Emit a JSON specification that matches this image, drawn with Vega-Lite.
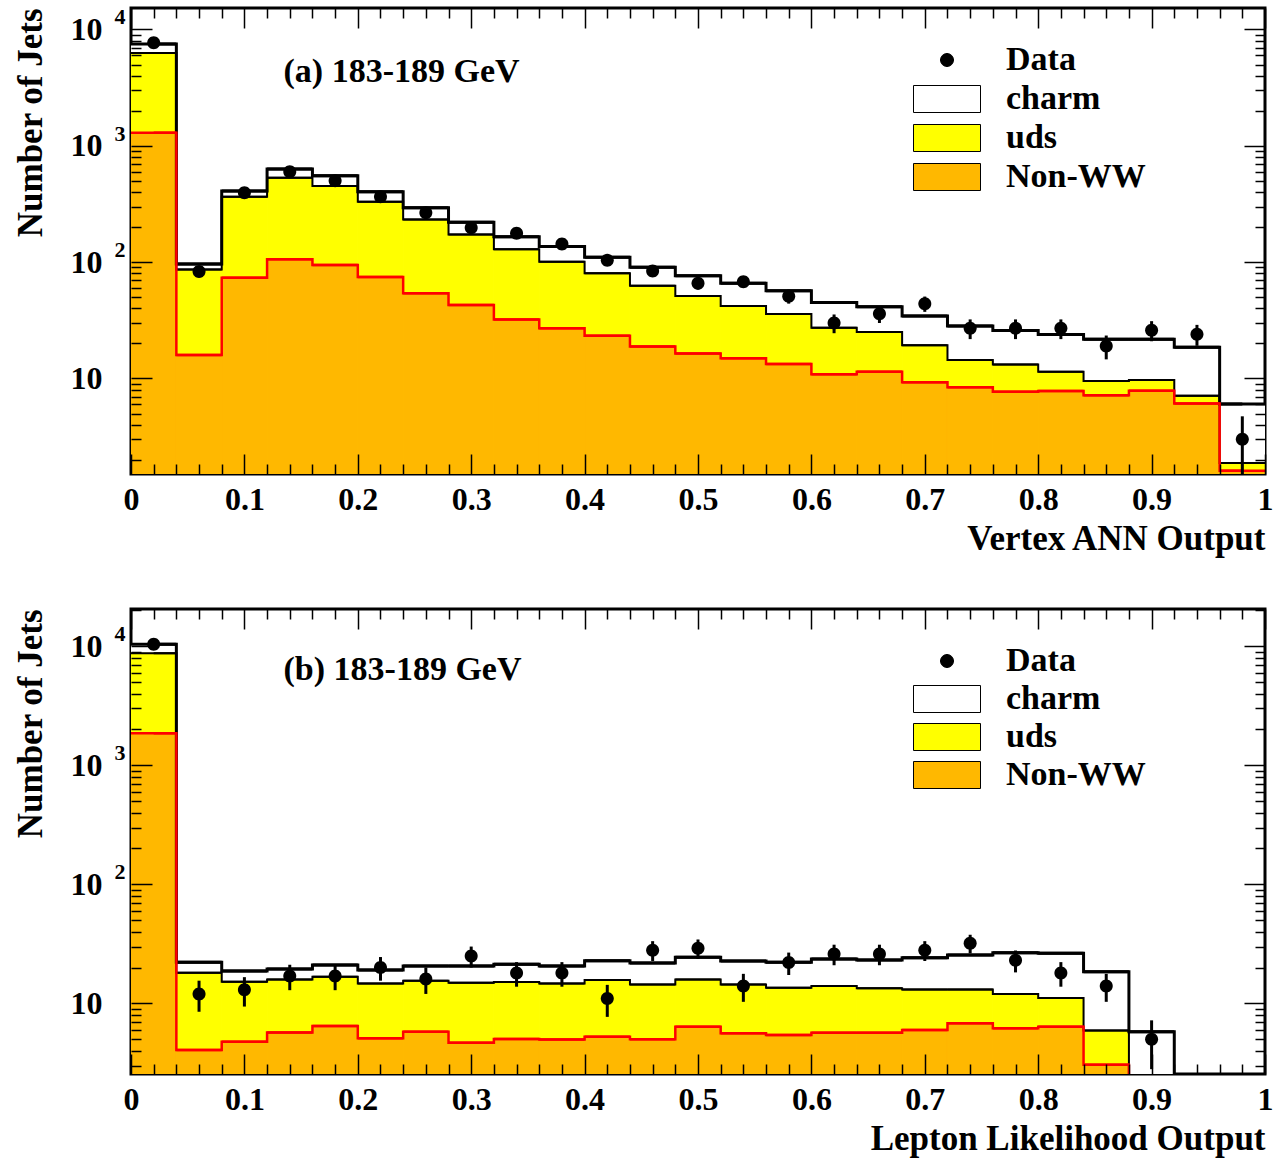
{
"$schema": "https://vega.github.io/schema/vega-lite/v6.json",
"background": "white",
"padding": {"left": 11, "top": 4, "right": 5, "bottom": 4},
"spacing": 48,
"config": {
  "view": {"stroke": "black", "strokeWidth": 3},
  "axis": {"domain": false, "grid": false, "tickColor": "black", "tickWidth": 1.5, "labelFont": "Liberation Serif", "labelFontWeight": "bold", "labelFontSize": 32, "labelColor": "black", "titleFont": "Liberation Serif", "titleFontWeight": "bold", "titleFontSize": 35, "titleColor": "black"}
},
"datasets": {
  "a": [
{"x0":0,"x1":0.04,"xc":0.02,"charm":7500,"uds":6280,"nonww":1297,"obs":7710,"elo":7622,"ehi":7798},
{"x0":0.04,"x1":0.08,"xc":0.06,"charm":96.4,"uds":86.3,"nonww":15.9,"obs":83,"elo":74,"ehi":92},
{"x0":0.08,"x1":0.12,"xc":0.1,"charm":408,"uds":365,"nonww":73.4,"obs":395,"elo":375,"ehi":415},
{"x0":0.12,"x1":0.16,"xc":0.14,"charm":632,"uds":532,"nonww":106,"obs":598,"elo":574,"ehi":622},
{"x0":0.16,"x1":0.2,"xc":0.18,"charm":553,"uds":451,"nonww":94.4,"obs":501,"elo":479,"ehi":523},
{"x0":0.2,"x1":0.24,"xc":0.22,"charm":403,"uds":330,"nonww":74.5,"obs":365,"elo":346,"ehi":384},
{"x0":0.24,"x1":0.28,"xc":0.26,"charm":294,"uds":233,"nonww":54,"obs":266,"elo":250,"ehi":282},
{"x0":0.28,"x1":0.32,"xc":0.3,"charm":220,"uds":173,"nonww":42.8,"obs":198,"elo":184,"ehi":212},
{"x0":0.32,"x1":0.36,"xc":0.34,"charm":165,"uds":129,"nonww":32.2,"obs":177,"elo":164,"ehi":190},
{"x0":0.36,"x1":0.4,"xc":0.38,"charm":136,"uds":101,"nonww":27,"obs":143,"elo":131,"ehi":155},
{"x0":0.4,"x1":0.44,"xc":0.42,"charm":110,"uds":80.2,"nonww":23.3,"obs":104,"elo":94,"ehi":114},
{"x0":0.44,"x1":0.48,"xc":0.46,"charm":90.2,"uds":62.7,"nonww":18.8,"obs":84,"elo":75,"ehi":93},
{"x0":0.48,"x1":0.52,"xc":0.5,"charm":76.4,"uds":51.2,"nonww":16.4,"obs":66,"elo":58,"ehi":74},
{"x0":0.52,"x1":0.56,"xc":0.54,"charm":65.8,"uds":42,"nonww":14.9,"obs":68,"elo":60,"ehi":76},
{"x0":0.56,"x1":0.6,"xc":0.58,"charm":56.8,"uds":35.8,"nonww":13.3,"obs":51,"elo":44,"ehi":58},
{"x0":0.6,"x1":0.64,"xc":0.62,"charm":45.1,"uds":27.3,"nonww":10.9,"obs":30,"elo":24.5,"ehi":35.5},
{"x0":0.64,"x1":0.68,"xc":0.66,"charm":41.4,"uds":25.1,"nonww":11.4,"obs":36,"elo":30,"ehi":42},
{"x0":0.68,"x1":0.72,"xc":0.7,"charm":34.4,"uds":19.3,"nonww":9.27,"obs":44,"elo":37.4,"ehi":50.6},
{"x0":0.72,"x1":0.76,"xc":0.74,"charm":28.2,"uds":14.4,"nonww":8.4,"obs":27,"elo":21.8,"ehi":32.2},
{"x0":0.76,"x1":0.8,"xc":0.78,"charm":25.9,"uds":13.2,"nonww":7.69,"obs":27,"elo":21.8,"ehi":32.2},
{"x0":0.8,"x1":0.84,"xc":0.82,"charm":23.9,"uds":11.4,"nonww":7.8,"obs":27,"elo":21.8,"ehi":32.2},
{"x0":0.84,"x1":0.88,"xc":0.86,"charm":21.7,"uds":9.5,"nonww":7.16,"obs":19,"elo":14.6,"ehi":23.4},
{"x0":0.88,"x1":0.92,"xc":0.9,"charm":21.7,"uds":9.7,"nonww":7.84,"obs":26,"elo":20.9,"ehi":31.1},
{"x0":0.92,"x1":0.96,"xc":0.94,"charm":18.6,"uds":7.1,"nonww":6.1,"obs":24,"elo":19.1,"ehi":28.9},
{"x0":0.96,"x1":1,"xc":0.98,"charm":6.03,"uds":1.88,"nonww":1.61,"obs":3,"elo":1.27,"ehi":4.73}
  ],
  "b": [
{"x0":0,"x1":0.04,"xc":0.02,"charm":10390,"uds":8730,"nonww":1858,"obs":10400,"elo":10298,"ehi":10502},
{"x0":0.04,"x1":0.08,"xc":0.06,"charm":22.1,"uds":18.1,"nonww":4.05,"obs":12,"elo":8.5,"ehi":15.5},
{"x0":0.08,"x1":0.12,"xc":0.1,"charm":18.7,"uds":15.2,"nonww":4.76,"obs":13,"elo":9.4,"ehi":16.6},
{"x0":0.12,"x1":0.16,"xc":0.14,"charm":19.4,"uds":15.9,"nonww":5.7,"obs":17,"elo":12.9,"ehi":21.1},
{"x0":0.16,"x1":0.2,"xc":0.18,"charm":21.0,"uds":16.7,"nonww":6.44,"obs":17,"elo":12.9,"ehi":21.1},
{"x0":0.2,"x1":0.24,"xc":0.22,"charm":19.05,"uds":14.7,"nonww":5.08,"obs":20,"elo":15.5,"ehi":24.5},
{"x0":0.24,"x1":0.28,"xc":0.26,"charm":20.6,"uds":15.5,"nonww":5.77,"obs":16,"elo":12,"ehi":20},
{"x0":0.28,"x1":0.32,"xc":0.3,"charm":20.6,"uds":14.9,"nonww":4.67,"obs":25,"elo":20,"ehi":30},
{"x0":0.32,"x1":0.36,"xc":0.34,"charm":21.3,"uds":15.1,"nonww":5.01,"obs":18,"elo":13.8,"ehi":22.2},
{"x0":0.36,"x1":0.4,"xc":0.38,"charm":20.6,"uds":14.7,"nonww":4.98,"obs":18,"elo":13.8,"ehi":22.2},
{"x0":0.4,"x1":0.44,"xc":0.42,"charm":22.8,"uds":15.7,"nonww":5.24,"obs":11,"elo":7.7,"ehi":14.3},
{"x0":0.44,"x1":0.48,"xc":0.46,"charm":21.8,"uds":14.4,"nonww":4.99,"obs":28,"elo":22.7,"ehi":33.3},
{"x0":0.48,"x1":0.52,"xc":0.5,"charm":24.4,"uds":15.9,"nonww":6.36,"obs":29,"elo":23.6,"ehi":34.4},
{"x0":0.52,"x1":0.56,"xc":0.54,"charm":22.7,"uds":14.4,"nonww":5.6,"obs":14,"elo":10.3,"ehi":17.7},
{"x0":0.56,"x1":0.6,"xc":0.58,"charm":22.2,"uds":13.5,"nonww":5.42,"obs":22,"elo":17.3,"ehi":26.7},
{"x0":0.6,"x1":0.64,"xc":0.62,"charm":23.6,"uds":14.0,"nonww":5.66,"obs":26,"elo":20.9,"ehi":31.1},
{"x0":0.64,"x1":0.68,"xc":0.66,"charm":23.1,"uds":13.4,"nonww":5.66,"obs":26,"elo":20.9,"ehi":31.1},
{"x0":0.68,"x1":0.72,"xc":0.7,"charm":24.2,"uds":13.1,"nonww":5.97,"obs":28,"elo":22.7,"ehi":33.3},
{"x0":0.72,"x1":0.76,"xc":0.74,"charm":25.5,"uds":13.1,"nonww":6.79,"obs":32,"elo":26.3,"ehi":37.7},
{"x0":0.76,"x1":0.8,"xc":0.78,"charm":26.6,"uds":12.0,"nonww":6.17,"obs":23,"elo":18.2,"ehi":27.8},
{"x0":0.8,"x1":0.84,"xc":0.82,"charm":26.3,"uds":11.1,"nonww":6.36,"obs":18,"elo":13.8,"ehi":22.2},
{"x0":0.84,"x1":0.88,"xc":0.86,"charm":18.4,"uds":5.91,"nonww":3.05,"obs":14,"elo":10.3,"ehi":17.7},
{"x0":0.88,"x1":0.92,"xc":0.9,"charm":5.77,"uds":0.5,"nonww":0.5,"obs":5,"elo":2.8,"ehi":7.2},
{"x0":0.92,"x1":0.96,"xc":0.94,"charm":0.5,"uds":0.5,"nonww":0.5,"obs":null,"elo":null,"ehi":null},
{"x0":0.96,"x1":1,"xc":0.98,"charm":0.5,"uds":0.5,"nonww":0.5,"obs":null,"elo":null,"ehi":null}
  ],
  "exps": [{"v":100,"t":"2"},{"v":1000,"t":"3"},{"v":10000,"t":"4"}],
  "labA": [{"t":"(a) 183-189 GeV"}],
  "labB": [{"t":"(b) 183-189 GeV"}]
},
"resolve": {"scale": {"fill": "independent", "shape": "independent"}, "legend": {"fill": "independent", "shape": "independent"}},
"vconcat": [
{
  "width": 1134, "height": 466,
  "data": {"name": "a"},
  "resolve": {"axis": {"x": "independent", "y": "independent"}},
  "layer": [
    {"mark": {"type": "rect", "clip": true, "strokeWidth": 0},
     "encoding": {
       "x": {"field": "x0", "type": "quantitative", "scale": {"domain": [0, 1], "nice": false, "zero": false},
             "axis": {"orient": "bottom", "zindex": 1, "values": [0,0.1,0.2,0.3,0.4,0.5,0.6,0.7,0.8,0.9,1], "tickSize": -20, "labelExpr": "datum.value == 0 ? '0' : datum.value == 1 ? '1' : format(datum.value, '.1f')", "labelFlush": false, "labelOverlap": false, "labelPadding": 30, "title": "Vertex ANN Output", "titleAnchor": "end", "titlePadding": 6}},
       "x2": {"field": "x1"},
       "y": {"field": "charm", "type": "quantitative", "scale": {"type": "log", "domain": [1.51, 15300], "nice": false},
             "axis": {"orient": "left", "zindex": 1, "values": [10,100,1000,10000], "tickSize": -21, "labelExpr": "'10'", "labelPadding": 50, "labelOverlap": false, "title": "Number of Jets", "titleAnchor": "end", "titlePadding": 22}},
       "y2": {"datum": 0.5},
       "fill": {"datum": "charm", "type": "nominal",
                "scale": {"domain": ["Data","charm","uds","Non-WW"], "range": ["black","white","#ffff00","#ffb800"]},
                "legend": {"orient": "none", "legendX": 799, "legendY": 35, "title": null, "padding": 0, "labelFont": "Liberation Serif", "labelFontSize": 34, "labelFontWeight": "bold", "labelColor": "black", "labelOffset": 42, "labelLimit": 400, "rowPadding": 5, "symbolSize": 4, "symbolStrokeColor": "black", "symbolStrokeWidth": 1,
                           "encode": {"symbols": {"update": {"stroke": {"value": "black"}, "strokeWidth": {"value": 1}}}}}}
     }},
    {"mark": {"type": "rect", "clip": true, "strokeWidth": 1, "stroke": "#ffff00"},
     "encoding": {
       "x": {"field": "x0", "type": "quantitative", "axis": {"orient": "bottom", "zindex": 1, "values": [0.02,0.04,0.06,0.08,0.12,0.14,0.16,0.18,0.22,0.24,0.26,0.28,0.32,0.34,0.36,0.38,0.42,0.44,0.46,0.48,0.52,0.54,0.56,0.58,0.62,0.64,0.66,0.68,0.72,0.74,0.76,0.78,0.82,0.84,0.86,0.88,0.92,0.94,0.96,0.98], "tickSize": -10, "labels": false, "title": null}},
       "x2": {"field": "x1"},
       "y": {"field": "uds", "type": "quantitative", "axis": {"orient": "left", "zindex": 1, "values": [2,3,4,5,6,7,8,9,20,30,40,50,60,70,80,90,200,300,400,500,600,700,800,900,2000,3000,4000,5000,6000,7000,8000,9000], "tickSize": -10, "labels": false, "title": null}},
       "y2": {"datum": 0.5},
       "fill": {"datum": "uds", "type": "nominal"}
     }},
    {"mark": {"type": "rect", "clip": true, "strokeWidth": 1, "stroke": "#ffb800"},
     "encoding": {
       "x": {"field": "x0", "type": "quantitative", "axis": {"orient": "top", "zindex": 1, "values": [0,0.1,0.2,0.3,0.4,0.5,0.6,0.7,0.8,0.9,1], "tickSize": -20, "labels": false, "title": null}},
       "x2": {"field": "x1"},
       "y": {"field": "nonww", "type": "quantitative", "axis": {"orient": "right", "zindex": 1, "values": [10,100,1000,10000], "tickSize": -21, "labels": false, "title": null}},
       "y2": {"datum": 0.5},
       "fill": {"datum": "Non-WW", "type": "nominal"}
     }},
    {"mark": {"type": "line", "interpolate": "step", "clip": true, "strokeWidth": 3, "color": "black"},
     "encoding": {
       "x": {"field": "xc", "type": "quantitative", "axis": {"orient": "top", "zindex": 1, "values": [0.02,0.04,0.06,0.08,0.12,0.14,0.16,0.18,0.22,0.24,0.26,0.28,0.32,0.34,0.36,0.38,0.42,0.44,0.46,0.48,0.52,0.54,0.56,0.58,0.62,0.64,0.66,0.68,0.72,0.74,0.76,0.78,0.82,0.84,0.86,0.88,0.92,0.94,0.96,0.98], "tickSize": -10, "labels": false, "title": null}},
       "y": {"field": "charm", "type": "quantitative", "axis": {"orient": "right", "zindex": 1, "values": [2,3,4,5,6,7,8,9,20,30,40,50,60,70,80,90,200,300,400,500,600,700,800,900,2000,3000,4000,5000,6000,7000,8000,9000], "tickSize": -10, "labels": false, "title": null}}
     }},
    {"mark": {"type": "rule", "clip": true, "strokeWidth": 3, "color": "black"},
     "encoding": {"x": {"field": "x0", "type": "quantitative", "axis": null}, "x2": {"field": "x1"}, "y": {"field": "charm", "type": "quantitative", "axis": null}}},
    {"mark": {"type": "line", "interpolate": "step", "clip": true, "strokeWidth": 2, "color": "black"},
     "encoding": {"x": {"field": "xc", "type": "quantitative", "axis": null}, "y": {"field": "uds", "type": "quantitative", "axis": null}}},
    {"mark": {"type": "rule", "clip": true, "strokeWidth": 2, "color": "black"},
     "encoding": {"x": {"field": "x0", "type": "quantitative", "axis": null}, "x2": {"field": "x1"}, "y": {"field": "uds", "type": "quantitative", "axis": null}}},
    {"mark": {"type": "line", "interpolate": "step", "clip": true, "strokeWidth": 2.5, "color": "#ff0000"},
     "encoding": {"x": {"field": "xc", "type": "quantitative", "axis": null}, "y": {"field": "nonww", "type": "quantitative", "axis": null}}},
    {"mark": {"type": "rule", "clip": true, "strokeWidth": 2.5, "color": "#ff0000"},
     "encoding": {"x": {"field": "x0", "type": "quantitative", "axis": null}, "x2": {"field": "x1"}, "y": {"field": "nonww", "type": "quantitative", "axis": null}}},
    {"mark": {"type": "rule", "clip": true, "strokeWidth": 3, "color": "black"},
     "encoding": {"x": {"field": "xc", "type": "quantitative", "axis": null}, "y": {"field": "elo", "type": "quantitative", "axis": null}, "y2": {"field": "ehi"}}},
    {"mark": {"type": "point", "filled": true, "size": 4, "strokeWidth": 0, "opacity": 1, "clip": true},
     "encoding": {
       "x": {"field": "xc", "type": "quantitative", "axis": null},
       "y": {"field": "obs", "type": "quantitative", "axis": null},
       "fill": {"datum": "Data", "type": "nominal"},
       "shape": {"datum": "Data", "type": "nominal",
                 "scale": {"domain": ["Data","charm","uds","Non-WW"], "range": ["M-6.5,0A6.5,6.5,0,1,1,6.5,0A6.5,6.5,0,1,1,-6.5,0Z","M-33.5,-13.5H33.5V13.5H-33.5Z","M-33.5,-13.5H33.5V13.5H-33.5Z","M-33.5,-13.5H33.5V13.5H-33.5Z"]},
                 "legend": {"orient": "none", "legendX": 799, "legendY": 35, "title": null, "padding": 0, "labelFont": "Liberation Serif", "labelFontSize": 34, "labelFontWeight": "bold", "labelColor": "black", "labelOffset": 42, "labelLimit": 400, "rowPadding": 5, "symbolSize": 4}}
     }},
    {"data": {"name": "exps"},
     "mark": {"type": "text", "align": "left", "baseline": "middle", "dx": -16.5, "dy": -12, "font": "Liberation Serif", "fontWeight": "bold", "fontSize": 22, "color": "black"},
     "encoding": {"x": {"datum": 0, "type": "quantitative", "axis": null}, "y": {"field": "v", "type": "quantitative", "axis": null}, "text": {"field": "t"}}},
    {"data": {"name": "labA"},
     "mark": {"type": "text", "align": "left", "baseline": "middle", "font": "Liberation Serif", "fontWeight": "bold", "fontSize": 34, "color": "black"},
     "encoding": {"x": {"datum": 0.1345, "type": "quantitative", "axis": null}, "y": {"datum": 4312, "type": "quantitative", "axis": null}, "text": {"field": "t"}}}
  ]
},
{
  "width": 1134, "height": 465,
  "data": {"name": "b"},
  "resolve": {"axis": {"x": "independent", "y": "independent"}},
  "layer": [
    {"mark": {"type": "rect", "clip": true, "strokeWidth": 0},
     "encoding": {
       "x": {"field": "x0", "type": "quantitative", "scale": {"domain": [0, 1], "nice": false, "zero": false},
             "axis": {"orient": "bottom", "zindex": 1, "values": [0,0.1,0.2,0.3,0.4,0.5,0.6,0.7,0.8,0.9,1], "tickSize": -20, "labelExpr": "datum.value == 0 ? '0' : datum.value == 1 ? '1' : format(datum.value, '.1f')", "labelFlush": false, "labelOverlap": false, "labelPadding": 30, "title": "Lepton Likelihood Output", "titleAnchor": "end", "titlePadding": 6}},
       "x2": {"field": "x1"},
       "y": {"field": "charm", "type": "quantitative", "scale": {"type": "log", "domain": [2.55, 20550], "nice": false},
             "axis": {"orient": "left", "zindex": 1, "values": [10,100,1000,10000], "tickSize": -21, "labelExpr": "'10'", "labelPadding": 50, "labelOverlap": false, "title": "Number of Jets", "titleAnchor": "end", "titlePadding": 22}},
       "y2": {"datum": 0.5},
       "fill": {"datum": "charm", "type": "nominal",
                "scale": {"domain": ["Data","charm","uds","Non-WW"], "range": ["black","white","#ffff00","#ffb800"]},
                "legend": {"orient": "none", "legendX": 799, "legendY": 35, "title": null, "padding": 0, "labelFont": "Liberation Serif", "labelFontSize": 34, "labelFontWeight": "bold", "labelColor": "black", "labelOffset": 42, "labelLimit": 400, "rowPadding": 4, "symbolSize": 4, "symbolStrokeColor": "black", "symbolStrokeWidth": 1,
                           "encode": {"symbols": {"update": {"stroke": {"value": "black"}, "strokeWidth": {"value": 1}}}}}}
     }},
    {"mark": {"type": "rect", "clip": true, "strokeWidth": 1, "stroke": "#ffff00"},
     "encoding": {
       "x": {"field": "x0", "type": "quantitative", "axis": {"orient": "bottom", "zindex": 1, "values": [0.02,0.04,0.06,0.08,0.12,0.14,0.16,0.18,0.22,0.24,0.26,0.28,0.32,0.34,0.36,0.38,0.42,0.44,0.46,0.48,0.52,0.54,0.56,0.58,0.62,0.64,0.66,0.68,0.72,0.74,0.76,0.78,0.82,0.84,0.86,0.88,0.92,0.94,0.96,0.98], "tickSize": -10, "labels": false, "title": null}},
       "x2": {"field": "x1"},
       "y": {"field": "uds", "type": "quantitative", "axis": {"orient": "left", "zindex": 1, "values": [3,4,5,6,7,8,9,20,30,40,50,60,70,80,90,200,300,400,500,600,700,800,900,2000,3000,4000,5000,6000,7000,8000,9000,20000], "tickSize": -10, "labels": false, "title": null}},
       "y2": {"datum": 0.5},
       "fill": {"datum": "uds", "type": "nominal"}
     }},
    {"mark": {"type": "rect", "clip": true, "strokeWidth": 1, "stroke": "#ffb800"},
     "encoding": {
       "x": {"field": "x0", "type": "quantitative", "axis": {"orient": "top", "zindex": 1, "values": [0,0.1,0.2,0.3,0.4,0.5,0.6,0.7,0.8,0.9,1], "tickSize": -20, "labels": false, "title": null}},
       "x2": {"field": "x1"},
       "y": {"field": "nonww", "type": "quantitative", "axis": {"orient": "right", "zindex": 1, "values": [10,100,1000,10000], "tickSize": -21, "labels": false, "title": null}},
       "y2": {"datum": 0.5},
       "fill": {"datum": "Non-WW", "type": "nominal"}
     }},
    {"mark": {"type": "line", "interpolate": "step", "clip": true, "strokeWidth": 3, "color": "black"},
     "encoding": {
       "x": {"field": "xc", "type": "quantitative", "axis": {"orient": "top", "zindex": 1, "values": [0.02,0.04,0.06,0.08,0.12,0.14,0.16,0.18,0.22,0.24,0.26,0.28,0.32,0.34,0.36,0.38,0.42,0.44,0.46,0.48,0.52,0.54,0.56,0.58,0.62,0.64,0.66,0.68,0.72,0.74,0.76,0.78,0.82,0.84,0.86,0.88,0.92,0.94,0.96,0.98], "tickSize": -10, "labels": false, "title": null}},
       "y": {"field": "charm", "type": "quantitative", "axis": {"orient": "right", "zindex": 1, "values": [3,4,5,6,7,8,9,20,30,40,50,60,70,80,90,200,300,400,500,600,700,800,900,2000,3000,4000,5000,6000,7000,8000,9000,20000], "tickSize": -10, "labels": false, "title": null}}
     }},
    {"mark": {"type": "rule", "clip": true, "strokeWidth": 3, "color": "black"},
     "encoding": {"x": {"field": "x0", "type": "quantitative", "axis": null}, "x2": {"field": "x1"}, "y": {"field": "charm", "type": "quantitative", "axis": null}}},
    {"mark": {"type": "line", "interpolate": "step", "clip": true, "strokeWidth": 2, "color": "black"},
     "encoding": {"x": {"field": "xc", "type": "quantitative", "axis": null}, "y": {"field": "uds", "type": "quantitative", "axis": null}}},
    {"mark": {"type": "rule", "clip": true, "strokeWidth": 2, "color": "black"},
     "encoding": {"x": {"field": "x0", "type": "quantitative", "axis": null}, "x2": {"field": "x1"}, "y": {"field": "uds", "type": "quantitative", "axis": null}}},
    {"mark": {"type": "line", "interpolate": "step", "clip": true, "strokeWidth": 2.5, "color": "#ff0000"},
     "encoding": {"x": {"field": "xc", "type": "quantitative", "axis": null}, "y": {"field": "nonww", "type": "quantitative", "axis": null}}},
    {"mark": {"type": "rule", "clip": true, "strokeWidth": 2.5, "color": "#ff0000"},
     "encoding": {"x": {"field": "x0", "type": "quantitative", "axis": null}, "x2": {"field": "x1"}, "y": {"field": "nonww", "type": "quantitative", "axis": null}}},
    {"mark": {"type": "rule", "clip": true, "strokeWidth": 3, "color": "black"},
     "encoding": {"x": {"field": "xc", "type": "quantitative", "axis": null}, "y": {"field": "elo", "type": "quantitative", "axis": null}, "y2": {"field": "ehi"}}},
    {"mark": {"type": "point", "filled": true, "size": 4, "strokeWidth": 0, "opacity": 1, "clip": true},
     "encoding": {
       "x": {"field": "xc", "type": "quantitative", "axis": null},
       "y": {"field": "obs", "type": "quantitative", "axis": null},
       "fill": {"datum": "Data", "type": "nominal"},
       "shape": {"datum": "Data", "type": "nominal",
                 "scale": {"domain": ["Data","charm","uds","Non-WW"], "range": ["M-6.5,0A6.5,6.5,0,1,1,6.5,0A6.5,6.5,0,1,1,-6.5,0Z","M-33.5,-13.5H33.5V13.5H-33.5Z","M-33.5,-13.5H33.5V13.5H-33.5Z","M-33.5,-13.5H33.5V13.5H-33.5Z"]},
                 "legend": {"orient": "none", "legendX": 799, "legendY": 35, "title": null, "padding": 0, "labelFont": "Liberation Serif", "labelFontSize": 34, "labelFontWeight": "bold", "labelColor": "black", "labelOffset": 42, "labelLimit": 400, "rowPadding": 4, "symbolSize": 4}}
     }},
    {"data": {"name": "exps"},
     "mark": {"type": "text", "align": "left", "baseline": "middle", "dx": -16.5, "dy": -12, "font": "Liberation Serif", "fontWeight": "bold", "fontSize": 22, "color": "black"},
     "encoding": {"x": {"datum": 0, "type": "quantitative", "axis": null}, "y": {"field": "v", "type": "quantitative", "axis": null}, "text": {"field": "t"}}},
    {"data": {"name": "labB"},
     "mark": {"type": "text", "align": "left", "baseline": "middle", "font": "Liberation Serif", "fontWeight": "bold", "fontSize": 34, "color": "black"},
     "encoding": {"x": {"datum": 0.1345, "type": "quantitative", "axis": null}, "y": {"datum": 6320, "type": "quantitative", "axis": null}, "text": {"field": "t"}}}
  ]
}
]
}
